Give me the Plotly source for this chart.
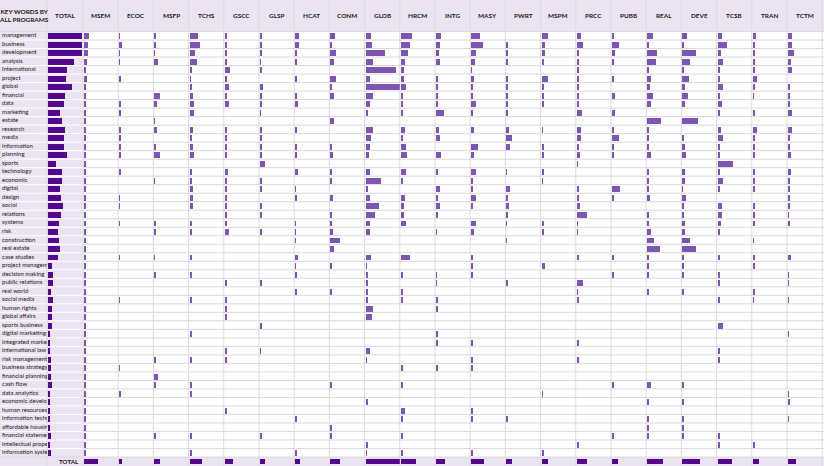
import plotly.graph_objects as go

keywords = [
    "management", "business", "development", "analysis", "international",
    "project", "global", "financial", "data", "marketing",
    "estate", "research", "media", "information", "planning",
    "sports", "technology", "economic", "digital", "design",
    "social", "relations", "systems", "risk", "construction",
    "real estate", "case studies", "project management", "decision making", "public relations",
    "real world", "social media", "human rights", "global affairs", "sports business",
    "digital marketing", "integrated marketing", "international law", "risk management", "business strategy",
    "financial planning", "cash flow", "data analytics", "economic development", "human resources",
    "information technology", "affordable housing", "financial statements", "intellectual property", "information systems",
]

total_counts = [101, 101, 100, 77, 55, 53, 72, 50, 46, 36,
                40, 50, 46, 46, 57, 24, 41, 40, 34, 38,
                43, 37, 33, 29, 31, 35, 29, 11, 14, 14,
                9, 13, 11, 11, 10, 3, 5, 6, 9, 7,
                9, 10, 5, 6, 6, 6, 4, 9, 6, 9]

programs = ["MSEM", "ECOC", "MSFP", "TCHS", "GSCC", "GLSP", "HCAT", "CONM", "GLOB", "HRCM", "INTG",
            "MASY", "PWRT", "MSPM", "PRCC", "PUBB", "REAL", "DEVE", "TCSB", "TRAN", "TCTM"]

MSEM = [14, 10, 11, 7, 3, 7, 3, 4, 4, 4, 4, 4, 4, 4, 4, 4, 4, 4, 4, 4,
        4, 4, 4, 4, 4, 4, 4, 4, 4, 3, 3, 4, 3, 3, 3, 3, 3, 3, 3, 3,
        3, 3, 3, 3, 3, 3, 3, 3, 3, 3]
ECOC = [2, 7, 2, 2, 0, 3, 0, 0, 3, 3, 0, 3, 3, 3, 4, 0, 6, 0, 0, 2,
        2, 0, 2, 0, 0, 0, 2, 0, 0, 0, 0, 2, 0, 0, 0, 0, 0, 0, 0, 2,
        0, 0, 3, 0, 0, 0, 0, 0, 0, 0]
MSFP = [5, 4, 2, 10, 0, 0, 0, 16, 7, 0, 2, 7, 0, 3, 17, 0, 0, 2, 0, 0,
        0, 0, 3, 4, 0, 0, 2, 0, 6, 0, 0, 0, 0, 0, 0, 0, 0, 0, 3, 0,
        12, 3, 0, 0, 0, 0, 0, 3, 0, 0]
TCHS = [24, 28, 14, 21, 5, 2, 5, 8, 12, 12, 0, 7, 5, 7, 12, 0, 5, 5, 7, 8,
        8, 0, 5, 5, 0, 0, 3, 0, 3, 0, 0, 5, 0, 0, 0, 3, 0, 0, 3, 0,
        0, 3, 4, 0, 0, 0, 0, 3, 0, 3]
GSCC = [4, 3, 3, 4, 14, 3, 12, 3, 11, 0, 0, 5, 3, 6, 3, 0, 8, 5, 5, 3,
        6, 3, 3, 10, 0, 0, 0, 0, 0, 3, 0, 3, 3, 3, 0, 0, 0, 3, 3, 0,
        0, 0, 0, 0, 3, 0, 0, 0, 0, 0]
GLSP = [5, 6, 3, 2, 5, 0, 8, 3, 3, 2, 0, 3, 5, 3, 3, 14, 0, 6, 3, 0,
        5, 4, 0, 3, 0, 0, 0, 0, 0, 3, 0, 0, 0, 0, 4, 0, 0, 2, 0, 0,
        0, 0, 0, 0, 0, 0, 0, 3, 0, 0]
HCAT = [12, 12, 4, 4, 0, 4, 0, 3, 9, 0, 0, 3, 0, 4, 4, 0, 8, 0, 2, 4,
        0, 0, 2, 2, 2, 0, 9, 2, 3, 0, 4, 0, 0, 0, 0, 0, 0, 0, 0, 0,
        0, 0, 0, 0, 0, 3, 0, 0, 0, 3]
CONM = [15, 3, 18, 12, 0, 16, 3, 10, 0, 0, 12, 0, 0, 3, 8, 0, 5, 4, 0, 8,
        0, 3, 4, 8, 29, 12, 0, 4, 0, 0, 3, 0, 0, 0, 0, 0, 0, 0, 0, 0,
        0, 3, 0, 0, 0, 0, 3, 3, 0, 0]
GLOB = [15, 18, 57, 21, 88, 12, 100, 19, 10, 3, 0, 19, 14, 12, 7, 0, 12, 43, 5, 10,
        37, 25, 10, 12, 0, 0, 14, 2, 3, 4, 3, 3, 19, 18, 0, 0, 0, 10, 2, 0,
        0, 0, 0, 6, 0, 0, 0, 0, 6, 2]
HRCM = [33, 25, 20, 11, 7, 9, 13, 5, 5, 3, 0, 11, 3, 13, 16, 0, 13, 5, 0, 12,
        7, 8, 13, 0, 0, 0, 26, 0, 3, 0, 4, 3, 0, 0, 0, 0, 0, 0, 0, 6,
        0, 4, 0, 0, 11, 3, 0, 3, 0, 3]
INTG = [13, 11, 7, 10, 0, 4, 4, 4, 4, 24, 0, 8, 10, 0, 15, 0, 4, 0, 12, 5,
        12, 4, 0, 2, 0, 0, 0, 0, 2, 2, 0, 4, 5, 0, 0, 4, 6, 0, 0, 4,
        0, 0, 0, 0, 0, 0, 0, 0, 0, 0]
MASY = [26, 35, 14, 12, 2, 8, 3, 5, 14, 4, 0, 9, 0, 21, 9, 0, 15, 3, 3, 14,
        3, 0, 14, 8, 0, 0, 3, 3, 6, 0, 0, 0, 0, 0, 0, 0, 3, 0, 6, 4,
        0, 0, 0, 0, 3, 4, 0, 0, 0, 6]
PWRT = [0, 4, 4, 5, 0, 3, 3, 3, 3, 3, 0, 8, 17, 12, 0, 0, 2, 0, 11, 5,
        8, 4, 2, 0, 2, 0, 0, 0, 0, 3, 0, 0, 0, 0, 0, 0, 0, 0, 0, 0,
        0, 0, 0, 0, 0, 3, 0, 0, 0, 0]
MSPM = [18, 8, 7, 3, 0, 18, 3, 3, 4, 0, 0, 2, 0, 5, 5, 0, 5, 2, 0, 0,
        0, 0, 4, 4, 0, 0, 0, 9, 0, 0, 0, 0, 0, 0, 0, 0, 0, 0, 0, 0,
        0, 0, 2, 0, 0, 0, 0, 0, 0, 5]
PRCC = [11, 17, 3, 4, 3, 3, 4, 4, 3, 13, 0, 11, 11, 4, 7, 2, 0, 0, 3, 4,
        8, 28, 2, 2, 0, 0, 3, 0, 0, 18, 2, 4, 0, 0, 0, 0, 3, 0, 3, 0,
        0, 0, 0, 0, 0, 0, 0, 0, 3, 0]
PUBB = [5, 21, 7, 5, 0, 5, 0, 7, 0, 9, 0, 3, 21, 3, 3, 0, 0, 0, 22, 3,
        0, 0, 0, 0, 0, 0, 3, 0, 3, 0, 0, 0, 0, 0, 0, 0, 0, 0, 0, 0,
        0, 3, 0, 0, 0, 0, 0, 3, 0, 0]
REAL = [17, 5, 28, 27, 3, 11, 7, 17, 11, 0, 42, 3, 4, 3, 11, 0, 6, 6, 3, 9,
        0, 3, 3, 11, 19, 38, 3, 3, 5, 0, 3, 0, 0, 0, 0, 0, 0, 0, 0, 0,
        0, 10, 0, 3, 0, 3, 5, 3, 0, 0]
DEVE = [13, 6, 41, 22, 3, 19, 9, 16, 8, 0, 46, 0, 4, 8, 10, 0, 7, 7, 2, 10,
        3, 4, 7, 7, 24, 40, 4, 4, 4, 0, 3, 0, 0, 0, 0, 0, 0, 0, 0, 0,
        0, 6, 0, 5, 0, 3, 6, 3, 0, 0]
TCSB = [12, 26, 9, 13, 6, 5, 13, 5, 11, 6, 0, 9, 13, 3, 5, 43, 3, 13, 4, 0,
        11, 10, 7, 5, 0, 0, 3, 0, 3, 3, 0, 4, 0, 0, 15, 0, 0, 3, 5, 0,
        0, 0, 0, 0, 0, 0, 0, 3, 3, 0]
TRAN = [8, 6, 3, 5, 4, 11, 5, 2, 0, 3, 0, 11, 3, 3, 4, 0, 4, 3, 6, 0,
        5, 3, 5, 0, 2, 0, 4, 4, 0, 0, 3, 2, 0, 0, 0, 0, 0, 0, 0, 0,
        0, 0, 0, 0, 0, 0, 0, 0, 3, 0]
TCTM = [10, 12, 16, 8, 10, 0, 3, 4, 4, 10, 0, 11, 4, 4, 9, 0, 8, 6, 4, 3,
        4, 2, 5, 0, 0, 0, 7, 0, 2, 2, 0, 2, 0, 0, 0, 2, 0, 0, 0, 0,
        0, 0, 2, 4, 0, 2, 0, 0, 0, 0]

program_counts = [MSEM, ECOC, MSFP, TCHS, GSCC, GLSP, HCAT, CONM, GLOB, HRCM, INTG,
                  MASY, PWRT, MSPM, PRCC, PUBB, REAL, DEVE, TCSB, TRAN, TCTM]

program_totals = [41, 9, 18, 34, 23, 14, 15, 29, 100, 43, 26, 39, 17, 17, 30, 18, 48, 53, 41, 16, 24]

# ---------------- layout geometry (pixels) ----------------
W, H = 824, 466
KW_R = 47.0
TOT_R = 83.0
COL_W = 35.2
HEAD_B = 31.5
BODY_B = 457.0

LAV = "#ECE3F2"
GRID = "#DADADA"
DARK = "#52078C"
MID = "#7D56B4"
TXT = "#1A1A1A"
FONT = "Lato"


def fx(p):
    return p / W


def fy(p):
    return 1 - p / H


fig = go.Figure()
axes = {}

body_y = dict(domain=[fy(BODY_B), fy(HEAD_B)], type="category", categoryorder="array",
              categoryarray=keywords, range=[len(keywords) - 0.5, -0.5], visible=False, fixedrange=True)
total_y = dict(domain=[0, fy(BODY_B)], type="category", categoryorder="array",
               categoryarray=["TOTAL"], range=[0.5, -0.5], visible=False, fixedrange=True)

# keyword text column
axes["xaxis"] = dict(domain=[0, fx(KW_R)], range=[0, KW_R], visible=False, anchor="y", fixedrange=True)
fig.add_trace(go.Scatter(x=[2.0] * len(keywords), y=keywords, mode="text", text=keywords,
                         textposition="middle right", cliponaxis=True,
                         textfont=dict(family=FONT, size=6.05, color=TXT),
                         xaxis="x", yaxis="y", hoverinfo="skip", showlegend=False))

# TOTAL column
axes["xaxis2"] = dict(domain=[fx(KW_R), fx(TOT_R)], range=[-4, 104], visible=False, anchor="y", fixedrange=True)
fig.add_trace(go.Bar(x=total_counts, y=keywords, orientation="h", width=0.7,
                     marker=dict(color=DARK, line=dict(width=0)),
                     xaxis="x2", yaxis="y", showlegend=False))

n = len(programs)
for k, (name, vals) in enumerate(zip(programs, program_counts)):
    x0 = TOT_R + k * COL_W
    x1 = x0 + COL_W
    bi = 3 + k
    ti = 3 + n + k
    axes[f"xaxis{bi}"] = dict(domain=[fx(x0), fx(x1)], range=[-3.6, 102], visible=False,
                              anchor="y", fixedrange=True)
    axes[f"xaxis{ti}"] = dict(domain=[fx(x0), fx(x1)], range=[-3.6, 102], visible=False,
                              anchor="y2", fixedrange=True)
    fig.add_trace(go.Bar(x=vals, y=keywords, orientation="h", width=0.7,
                         marker=dict(color=MID, line=dict(width=0)),
                         xaxis=f"x{bi}", yaxis="y", name=name, showlegend=False))
    fig.add_trace(go.Bar(x=[program_totals[k]], y=["TOTAL"], orientation="h", width=0.66,
                         marker=dict(color=DARK, line=dict(width=0)),
                         xaxis=f"x{ti}", yaxis="y2", name=name, showlegend=False))

# ---------------- background & grid ----------------
shapes = []
shapes.append(dict(type="rect", xref="paper", yref="paper", x0=0, x1=fx(TOT_R), y0=0, y1=1,
                   fillcolor=LAV, line=dict(width=0), layer="below"))
shapes.append(dict(type="rect", xref="paper", yref="paper", x0=0, x1=1, y0=fy(HEAD_B), y1=1,
                   fillcolor=LAV, line=dict(width=0), layer="below"))
shapes.append(dict(type="rect", xref="paper", yref="paper", x0=0, x1=1, y0=0, y1=fy(BODY_B),
                   fillcolor=LAV, line=dict(width=0), layer="below"))
# row separators
for i in range(1, len(keywords)):
    shapes.append(dict(type="line", xref="paper", yref="y", x0=0, x1=fx(TOT_R), y0=i - 0.5, y1=i - 0.5,
                       line=dict(color="#FFFFFF", width=1), layer="below"))
    shapes.append(dict(type="line", xref="paper", yref="y", x0=fx(TOT_R), x1=1, y0=i - 0.5, y1=i - 0.5,
                       line=dict(color=GRID, width=1), layer="below"))
for yy in (HEAD_B, BODY_B):
    shapes.append(dict(type="line", xref="paper", yref="paper", x0=0, x1=1, y0=fy(yy), y1=fy(yy),
                       line=dict(color=GRID, width=1), layer="below"))
# column separators
col_edges = [KW_R, TOT_R] + [TOT_R + (k + 1) * COL_W for k in range(n)]
for xe in col_edges:
    shapes.append(dict(type="line", xref="paper", yref="paper", x0=fx(xe), x1=fx(xe), y0=0, y1=1,
                       line=dict(color=GRID, width=1), layer="below"))

# ---------------- header text ----------------
ann = []
hfont = dict(family=FONT, size=6.4, color=TXT)
ann.append(dict(text="<b>KEY WORDS BY</b><br><b>ALL PROGRAMS</b>", x=fx(KW_R / 2), y=fy(15.5),
                xref="paper", yref="paper", xanchor="center", yanchor="middle",
                showarrow=False, font=hfont, align="center"))
ann.append(dict(text="<b>TOTAL</b>", x=fx((KW_R + TOT_R) / 2), y=fy(15.5),
                xref="paper", yref="paper", xanchor="center", yanchor="middle",
                showarrow=False, font=hfont))
for k, name in enumerate(programs):
    cx = TOT_R + (k + 0.5) * COL_W
    ann.append(dict(text=f"<b>{name}</b>", x=fx(cx), y=fy(15.5), xref="paper", yref="paper",
                    xanchor="center", yanchor="middle", showarrow=False, font=hfont))
ann.append(dict(text="<b>TOTAL</b>", x=fx(TOT_R - 2.5), y=fy((BODY_B + H) / 2), xref="paper", yref="paper",
                xanchor="right", yanchor="middle", showarrow=False,
                font=dict(family=FONT, size=6.2, color=TXT)))

fig.update_layout(
    width=W, height=H, margin=dict(l=0, r=0, t=0, b=0),
    paper_bgcolor="white", plot_bgcolor="rgba(0,0,0,0)",
    barmode="overlay", bargap=0, showlegend=False,
    shapes=shapes, annotations=ann,
    yaxis=body_y, yaxis2=total_y, **axes,
)

fig.write_html("out.html")
